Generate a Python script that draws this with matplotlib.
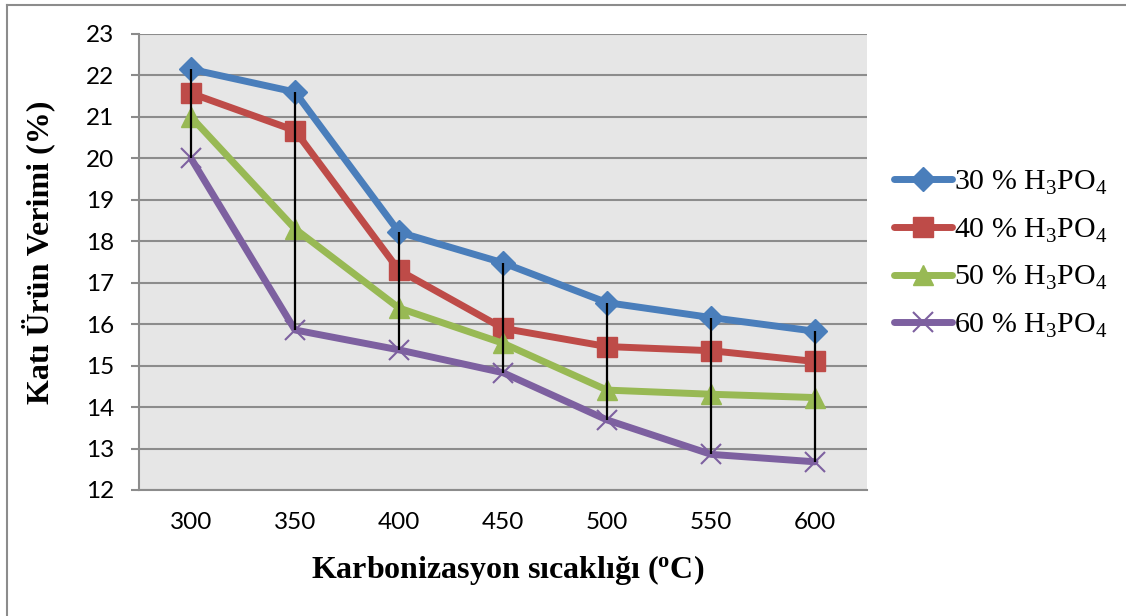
import matplotlib.pyplot as plt
from matplotlib.lines import Line2D

plt.rcParams["mathtext.fontset"] = "custom"
plt.rcParams["mathtext.rm"] = "Liberation Serif"
plt.rcParams["mathtext.bf"] = "Liberation Serif:bold"

# carbonization temperatures (category axis)
temps = ["300", "350", "400", "450", "500", "550", "600"]

# solid product yield (%) for each H3PO4 ratio
yield_30 = [22.15, 21.6, 18.22, 17.48, 16.52, 16.16, 15.83]
yield_40 = [21.57, 20.67, 17.3, 15.9, 15.46, 15.36, 15.1]
yield_50 = [21.0, 18.3, 16.39, 15.54, 14.41, 14.31, 14.23]
yield_60 = [20.0, 15.86, 15.38, 14.83, 13.69, 12.86, 12.68]

labels = ["30 % H$_3$PO$_4$", "40 % H$_3$PO$_4$",
          "50 % H$_3$PO$_4$", "60 % H$_3$PO$_4$"]
colors = ["#4A7EBB", "#BE4B48", "#98B954", "#7D60A0"]
markers = ["D", "s", "^", "x"]
msizes = [12, 15, 15, 15]

fig = plt.figure(figsize=(11.26, 6.16), dpi=100)
ax = fig.add_axes([139 / 1126, 1 - 490 / 616, 728 / 1126, 456 / 616])
ax.set_facecolor("#E6E6E6")

x = list(range(len(temps)))
series = [yield_30, yield_40, yield_50, yield_60]
for ys, c, m, ms, lab in zip(series, colors, markers, msizes, labels):
    kw = dict(markeredgewidth=1.5) if m == "x" else dict(markeredgecolor=c)
    ax.plot(x, ys, color=c, lw=5, marker=m, ms=ms, label=lab,
            solid_capstyle="round", zorder=3, **kw)

# high-low lines
highs = [max(v) for v in zip(*series)]
lows = [min(v) for v in zip(*series)]
ax.vlines(x, lows, highs, colors="black", lw=1.6, zorder=5)

ax.set_xlim(-0.5, 6.5)
ax.set_ylim(12, 23)
ax.set_yticks(range(12, 24))
ax.set_xticks(x)
ax.set_xticklabels(temps)
ax.grid(axis="y", color="#8C8C8C", lw=1.5, zorder=0)
ax.set_axisbelow(True)
for s in ["top", "right"]:
    ax.spines[s].set_visible(False)
for s in ["left", "bottom"]:
    ax.spines[s].set_color("#8C8C8C")
    ax.spines[s].set_linewidth(1.5)
ax.tick_params(axis="y", length=6, width=1.5, color="#8C8C8C", pad=12,
               labelsize=17.5, labelfontfamily="Lato")
ax.tick_params(axis="x", length=0, pad=16, labelsize=17.5,
               labelfontfamily="Lato")

fig.text(38 / 1126, 1 - 252 / 616, "Katı Ürün Verimi (%)", rotation=90,
         ha="center", va="center", fontsize=23, fontweight="bold",
         family="Liberation Serif")
fig.text(508 / 1126, 1 - 570 / 616,
         r"Karbonizasyon sıcaklığı ($\mathbf{^o}$C)",
         ha="center", va="center", fontsize=23, fontweight="bold",
         family="Liberation Serif")

ax.legend(loc="upper left", bbox_to_anchor=(882 / 1126, 1 - 157 / 616),
          bbox_transform=fig.transFigure, frameon=False,
          prop={"family": "Liberation Serif", "size": 21.5},
          handlelength=1.95, handletextpad=0.05, labelspacing=0.65,
          borderaxespad=0)

# outer chart border (top and left edges only)
fig.add_artist(Line2D([7 / 1126, 1], [1 - 5 / 616, 1 - 5 / 616],
                      color="#8C8C8C", lw=1.5))
fig.add_artist(Line2D([7 / 1126, 7 / 1126], [0, 1 - 5 / 616],
                      color="#8C8C8C", lw=1.5))

fig.savefig("out.png", dpi=100)
